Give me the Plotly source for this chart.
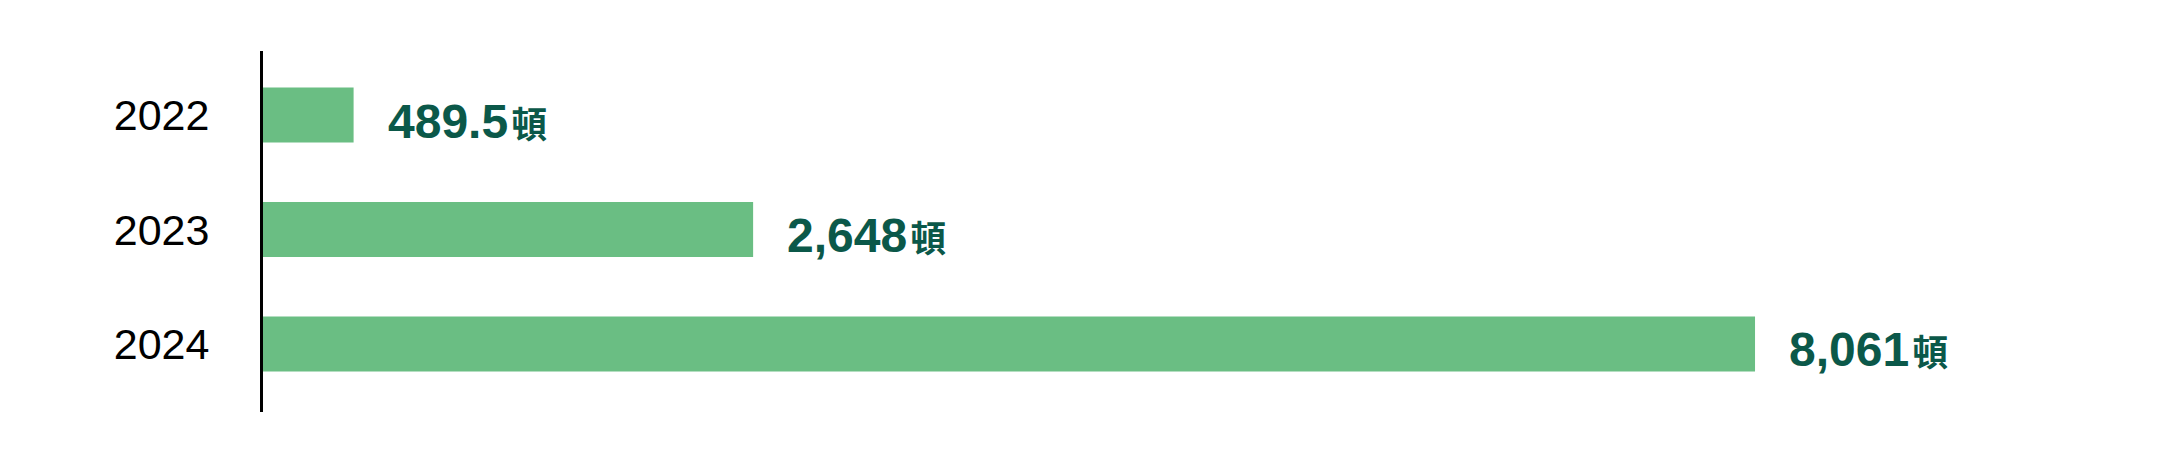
import plotly.graph_objects as go

# data
years = ["2022", "2023", "2024"]
tons = [489.5, 2648, 8061]
labels = ["489.5", "2,648", "8,061"]
unit = "頓"

bar_color = "#6abe83"
label_color = "#0b5849"

fig = go.Figure()

fig.add_trace(go.Bar(
	x=tons,
	y=years,
	orientation="h",
	width=0.48,
	marker=dict(color=bar_color, line_width=0),
	hoverinfo="skip",
))

# value labels to the right of each bar (category axis -> use index for y)
for i, (val, lab) in enumerate(zip(tons, labels)):
	fig.add_annotation(
		x=val, y=i,
		xref="x", yref="y",
		text="<b>" + lab + "</b><span style='font-size:36px'><b>\u200a" + unit + "</b></span>",
		showarrow=False,
		xanchor="left",
		yanchor="middle",
		xshift=32,
		yshift=-6,
		font=dict(family="Liberation Sans, Noto Sans CJK TC, Arial", size=48, color=label_color),
	)

# page body has an 8px margin, so pull the plot area back by that much
fig.update_layout(
	width=2167,
	height=467,
	margin=dict(l=255, r=0, t=43, b=63),
	plot_bgcolor="white",
	paper_bgcolor="white",
	showlegend=False,
	xaxis=dict(
		range=[0, 10330],
		visible=False,
		showgrid=False,
		zeroline=False,
	),
	yaxis=dict(
		type="category",
		range=[2.594, -0.559],
		showgrid=False,
		zeroline=False,
		showline=True,
		linecolor="black",
		linewidth=3,
		ticks="outside",
		ticklen=42,
		tickcolor="rgba(0,0,0,0)",
		tickfont=dict(family="Liberation Sans, Arial", size=43, color="black"),
	),
)

fig.write_html("out.html")
